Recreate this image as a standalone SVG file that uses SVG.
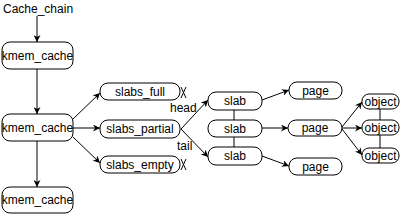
<svg xmlns="http://www.w3.org/2000/svg" width="402" height="216" viewBox="0 0 402 216">
<defs>
<marker id="ah" viewBox="0 0 10 10" refX="10" refY="5" markerWidth="7" markerHeight="7" markerUnits="userSpaceOnUse" orient="auto">
<path d="M0,0 L10,5 L0,10 L3,5 Z" fill="#000"/>
</marker>
<style>
.box{fill:#fff;stroke:#000;stroke-width:1}
.t{font-family:"Liberation Sans",Arial,sans-serif;font-size:12px;fill:#000;text-anchor:middle}
.l{font-family:"Liberation Sans",Arial,sans-serif;font-size:12px;fill:#000}
.c{stroke:#000;stroke-width:1;fill:none}
.a{stroke:#000;stroke-width:1;fill:none;marker-end:url(#ah)}
</style>
</defs>
<rect width="402" height="216" fill="#fff"/>
<g id="connectors">
<line class="a" x1="37" y1="16" x2="37" y2="42"/>
<line class="a" x1="37" y1="69" x2="37" y2="114"/>
<line class="a" x1="37" y1="141" x2="37" y2="187"/>
<line class="a" x1="73" y1="119" x2="100" y2="93"/>
<line class="a" x1="73" y1="128" x2="100" y2="128"/>
<line class="a" x1="73" y1="137" x2="100" y2="163"/>
<line class="a" x1="181" y1="129" x2="208" y2="100"/>
<line class="a" x1="181" y1="129" x2="208" y2="157"/>
<line class="c" x1="234" y1="110" x2="234" y2="120"/>
<line class="c" x1="234" y1="137" x2="234" y2="147"/>
<line class="a" x1="262" y1="100" x2="289" y2="90"/>
<line class="a" x1="262" y1="128" x2="288" y2="128"/>
<line class="a" x1="262" y1="156" x2="289" y2="166"/>
<line class="a" x1="342" y1="127" x2="362" y2="102"/>
<line class="a" x1="342" y1="128" x2="362" y2="128"/>
<line class="a" x1="342" y1="129" x2="362" y2="155"/>
<line class="c" x1="380" y1="109" x2="380" y2="120"/>
<line class="c" x1="380" y1="135" x2="380" y2="148"/>
<path class="c" d="M181,87 L186,98 M186,87 L181,98"/>
<path class="c" d="M181,159 L186,170 M186,159 L181,170"/>
<text class="l" x="170" y="112">head</text>
<text class="l" x="177" y="150">tail</text>
</g>
<g id="cache_chain"><text class="l" x="3" y="13">Cache_chain</text></g>
<g id="kmem1"><rect class="box" x="2" y="42" width="71" height="27" rx="8"/><text class="t" x="37.5" y="60">kmem_cache</text></g>
<g id="kmem2"><rect class="box" x="2" y="114" width="71" height="27" rx="8"/><text class="t" x="37.5" y="132">kmem_cache</text></g>
<g id="kmem3"><rect class="box" x="2" y="187" width="71" height="26" rx="8"/><text class="t" x="37.5" y="204">kmem_cache</text></g>
<g id="slabs_full"><rect class="box" x="100" y="83" width="80" height="17" rx="8"/><text class="t" x="140" y="96">slabs_full</text></g>
<g id="slabs_partial"><rect class="box" x="100" y="120" width="80" height="18" rx="8"/><text class="t" x="140" y="133">slabs_partial</text></g>
<g id="slabs_empty"><rect class="box" x="100" y="156" width="80" height="17" rx="8"/><text class="t" x="140" y="169">slabs_empty</text></g>
<g id="slab1"><rect class="box" x="208" y="92" width="54" height="18" rx="8"/><text class="t" x="235" y="105">slab</text></g>
<g id="slab2"><rect class="box" x="208" y="120" width="54" height="17" rx="8"/><text class="t" x="235" y="133">slab</text></g>
<g id="slab3"><rect class="box" x="208" y="147" width="54" height="18" rx="8"/><text class="t" x="235" y="160">slab</text></g>
<g id="page1"><rect class="box" x="289" y="82" width="53" height="17" rx="8"/><text class="t" x="315.5" y="95">page</text></g>
<g id="page2"><rect class="box" x="288" y="120" width="54" height="16" rx="8"/><text class="t" x="315" y="132">page</text></g>
<g id="page3"><rect class="box" x="289" y="158" width="53" height="17" rx="8"/><text class="t" x="315.5" y="171">page</text></g>
<g id="object1"><rect class="box" x="362" y="94" width="37" height="15" rx="7"/><text class="t" x="380.5" y="106">object</text></g>
<g id="object2"><rect class="box" x="362" y="120" width="37" height="15" rx="7"/><text class="t" x="380.5" y="132">object</text></g>
<g id="object3"><rect class="box" x="362" y="148" width="37" height="15" rx="7"/><text class="t" x="380.5" y="160">object</text></g>
</svg>
